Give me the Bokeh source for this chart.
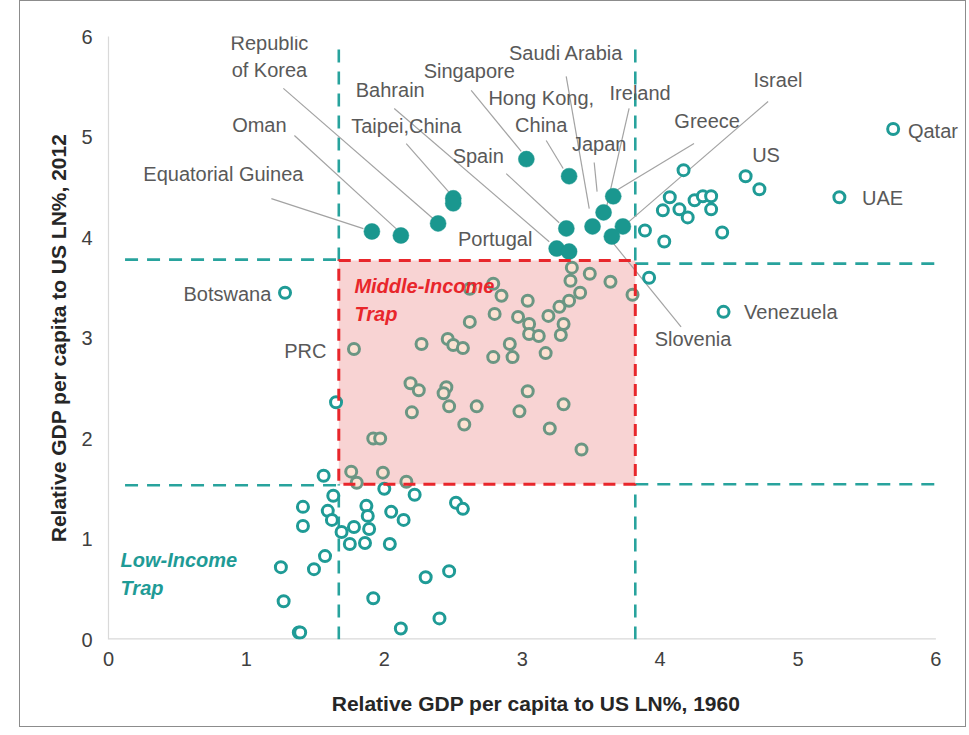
import numpy as np
from bokeh.plotting import figure
from bokeh.models import Range1d, FixedTicker, Label
from bokeh.embed import file_html
from bokeh.resources import INLINE

# ---------------- data ----------------
# Economies that escaped the middle-income trap (filled markers)
star_x = [1.91, 2.12, 2.39, 2.50, 2.50, 3.03, 3.34, 3.32, 3.25, 3.34, 3.51, 3.59, 3.66, 3.73, 3.65]
star_y = [4.06, 4.02, 4.14, 4.39, 4.34, 4.78, 4.61, 4.09, 3.89, 3.86, 4.11, 4.25, 4.41, 4.11, 4.01]

# High-income economies (hollow markers)
high_x = [4.17, 4.62, 4.72, 4.07, 4.02, 4.14, 4.20, 4.25, 4.31, 4.37, 4.37, 3.89, 4.03, 4.45, 3.92,
          5.69, 5.30, 4.46, 1.28]
high_y = [4.67, 4.61, 4.48, 4.40, 4.27, 4.28, 4.20, 4.37, 4.41, 4.41, 4.28, 4.07, 3.96, 4.05, 3.60,
          5.08, 4.40, 3.26, 3.45]

# Middle-income economies
mid_x = [1.78, 2.27, 2.46, 2.50, 2.57, 2.62, 2.80, 2.79, 2.85, 2.62, 2.97, 3.04, 3.05, 3.05, 3.12,
         2.91, 2.79, 2.93, 2.19, 2.25, 2.20, 2.45, 2.43, 2.47, 2.67, 2.58, 3.04, 2.98, 1.92, 1.97,
         1.76, 1.99, 2.16, 1.80, 3.36, 3.35, 3.49, 3.64, 3.80, 3.42, 3.34, 3.27, 3.19, 3.30, 3.28,
         3.17, 3.30, 3.20, 3.43]
mid_y = [2.89, 2.94, 2.99, 2.93, 2.90, 3.16, 3.24, 3.54, 3.42, 3.49, 3.21, 3.37, 3.14, 3.04, 3.02,
         2.94, 2.81, 2.81, 2.55, 2.48, 2.26, 2.51, 2.45, 2.32, 2.32, 2.14, 2.47, 2.27, 2.00, 2.00,
         1.67, 1.66, 1.57, 1.56, 3.70, 3.57, 3.64, 3.56, 3.43, 3.45, 3.37, 3.31, 3.22, 3.14, 3.03,
         2.85, 2.34, 2.10, 1.89]

# Low-income economies
low_x = [1.65, 1.56, 2.00, 2.22, 1.63, 1.41, 1.59, 1.62, 1.41, 1.87, 1.88, 2.05, 2.14, 1.78, 1.89,
         1.69, 1.86, 1.75, 2.04, 2.52, 2.57, 1.57, 1.49, 1.25, 1.27, 1.38, 1.39, 1.92, 2.30, 2.47,
         2.12, 2.40]
low_y = [2.36, 1.63, 1.50, 1.44, 1.43, 1.32, 1.28, 1.19, 1.13, 1.33, 1.23, 1.27, 1.19, 1.12, 1.10,
         1.07, 0.96, 0.95, 0.95, 1.36, 1.30, 0.83, 0.70, 0.72, 0.38, 0.07, 0.07, 0.41, 0.62, 0.68,
         0.11, 0.21]

# Trap thresholds
trap_x = [1.67, 3.82]
trap_y = [1.545, 3.77]
ticks = [0, 1, 2, 3, 4, 5, 6]
axis_max = 6

# ---------------- styles ----------------
TEAL = "#1f9b96"
TEAL_DOT = "#1a978f"
TEAL_DASH = "#28a39d"
MID_LINE = "#6b9683"
MID_FILL = "#fce1d2"
PINK = "#f8d3d3"
RED = "#e8262b"
LEADER = "#a3a3a3"
LABEL = "#595959"
AXIS = "#d9d9d9"
FONT = "Liberation Sans"

p = figure(width=947, height=727, x_range=Range1d(0, 6.2), y_range=Range1d(0, 6),
           output_backend="svg", toolbar_location=None,
           min_border_left=88, min_border_right=4, min_border_top=35, min_border_bottom=89,
           margin=(0, 0, 0, 19))
p.styles = {"border": "1px solid #8c8c8c"}
p.outline_line_color = None
p.grid.visible = False
p.background_fill_color = "white"
p.border_fill_color = "white"

for ax in (p.xaxis, p.yaxis):
    ax.ticker = FixedTicker(ticks=ticks)
    ax.axis_line_color = AXIS
    ax.axis_line_width = 1.2
    ax.major_tick_line_color = None
    ax.minor_tick_line_color = None
    ax.major_tick_out = 0
    ax.major_tick_in = 0
    ax.major_label_text_font = FONT
    ax.major_label_text_font_size = "20px"
    ax.major_label_text_color = "#404040"
    ax.axis_label_text_font = FONT
    ax.axis_label_text_font_size = "21px"
    ax.axis_label_text_font_style = "bold"
    ax.axis_label_text_color = "#262626"

p.xaxis.axis_line_color = None
p.xaxis.axis_label = "Relative GDP per capita to US LN%, 1960"
p.yaxis.axis_label = "Relative GDP per capita to US LN%, 2012"
p.xaxis.major_label_standoff = 12
p.xaxis.axis_label_standoff = 23
p.yaxis.major_label_standoff = 16
p.yaxis.axis_label_standoff = 8

# x axis line, ending at the last tick
p.segment(x0=[0], y0=[0], x1=[axis_max], y1=[0], line_color=AXIS, line_width=2.4)

# middle-income trap box fill
p.quad(left=[trap_x[0]], right=[trap_x[1]], bottom=[trap_y[0]], top=[trap_y[1]],
       fill_color=PINK, line_color=None)

# teal dashed threshold lines (outside the box)
vx0 = [trap_x[0], trap_x[0], trap_x[1], trap_x[1]]
vy0 = [0, trap_y[1], 0, trap_y[1]]
vy1 = [trap_y[0], 5.96, trap_y[0], 5.96]
p.segment(x0=vx0, y0=vy0, x1=vx0, y1=vy1, line_color=TEAL_DASH, line_width=2.6, line_dash="13 9")
hx0 = [0.12, trap_x[1], 0.12, trap_x[1]]
hx1 = [trap_x[0], axis_max, trap_x[0], axis_max]
hy = [trap_y[1] + 0.01, trap_y[1] - 0.03, trap_y[0] - 0.01, trap_y[0]]
p.segment(x0=hx0, y0=hy, x1=hx1, y1=hy, line_color=TEAL_DASH, line_width=2.6, line_dash="13 9")

# leader lines (annotation layout)
leaders = [
    (1.181, 4.387, 1.848, 4.088),
    (1.348, 5.015, 2.101, 4.068),
    (1.268, 5.484, 2.355, 4.187),
    (2.159, 4.935, 2.478, 4.437),
    (2.072, 5.284, 3.196, 3.958),
    (2.630, 5.464, 2.993, 4.856),
    (3.174, 4.965, 3.297, 4.686),
    (2.884, 4.636, 3.268, 4.147),
    (3.319, 5.603, 3.486, 4.287),
    (3.522, 4.746, 3.543, 4.457),
    (3.775, 5.284, 3.609, 4.287),
    (4.246, 4.935, 3.667, 4.456),
    (4.783, 5.354, 3.732, 4.108),
    (4.152, 3.111, 3.645, 3.968),
]
p.segment(x0=[l[0] for l in leaders], y0=[l[1] for l in leaders],
          x1=[l[2] for l in leaders], y1=[l[3] for l in leaders],
          line_color=LEADER, line_width=1.2)

# hollow markers
hollow_x = np.array(high_x + mid_x + low_x)
hollow_y = np.array(high_y + mid_y + low_y)
inside = ((hollow_x >= trap_x[0]) & (hollow_x <= trap_x[1]) &
          (hollow_y >= trap_y[0]) & (hollow_y <= trap_y[1]))
p.scatter(hollow_x[~inside], hollow_y[~inside], size=11, line_width=3,
          line_color=TEAL, fill_color="white")
p.scatter(hollow_x[inside], hollow_y[inside], size=11, line_width=3,
          line_color=MID_LINE, fill_color=MID_FILL)

# filled markers
p.scatter(star_x, star_y, size=16, line_color=TEAL_DOT, line_width=0.5, fill_color=TEAL_DOT)

# red dashed outline of the trap box
p.quad(left=[trap_x[0]], right=[trap_x[1]], bottom=[trap_y[0]], top=[trap_y[1]],
       fill_alpha=0, line_color=RED, line_width=3, line_dash="12 8")

# labels
labels = [
    ("Republic", 1.167, 5.932, "center"),
    ("of Korea", 1.167, 5.663, "center"),
    ("Oman", 1.094, 5.115, "center"),
    ("Equatorial Guinea", 0.833, 4.636, "center"),
    ("Bahrain", 2.043, 5.464, "center"),
    ("Taipei,China", 2.159, 5.105, "center"),
    ("Singapore", 2.616, 5.653, "center"),
    ("Saudi Arabia", 3.319, 5.833, "center"),
    ("Hong Kong,", 3.138, 5.384, "center"),
    ("China", 3.138, 5.115, "center"),
    ("Ireland", 3.855, 5.434, "center"),
    ("Japan", 3.558, 4.935, "center"),
    ("Spain", 2.681, 4.806, "center"),
    ("Greece", 4.341, 5.164, "center"),
    ("Israel", 4.855, 5.563, "center"),
    ("US", 4.768, 4.816, "center"),
    ("Portugal", 2.804, 3.988, "center"),
    ("Slovenia", 4.239, 2.991, "center"),
    ("Botswana", 1.181, 3.440, "right"),
    ("PRC", 1.580, 2.871, "right"),
    ("Qatar", 5.797, 5.055, "left"),
    ("UAE", 5.464, 4.397, "left"),
    ("Venezuela", 4.609, 3.260, "left"),
]
for txt, lx, ly, al in labels:
    p.add_layout(Label(x=lx, y=ly, text=txt, text_align=al, text_baseline="middle",
                       text_font=FONT, text_font_size="20px", text_color=LABEL))

zones = [
    ("Middle-Income", 1.783, 3.519, RED),
    ("Trap", 1.783, 3.240, RED),
    ("Low-Income", 0.087, 0.788, TEAL),
    ("Trap", 0.087, 0.508, TEAL),
]
for txt, lx, ly, col in zones:
    p.add_layout(Label(x=lx, y=ly, text=txt, text_align="left", text_baseline="middle",
                       text_font=FONT, text_font_size="20px", text_font_style="bold italic",
                       text_color=col))

open("out.html", "w").write(file_html(p, INLINE))
